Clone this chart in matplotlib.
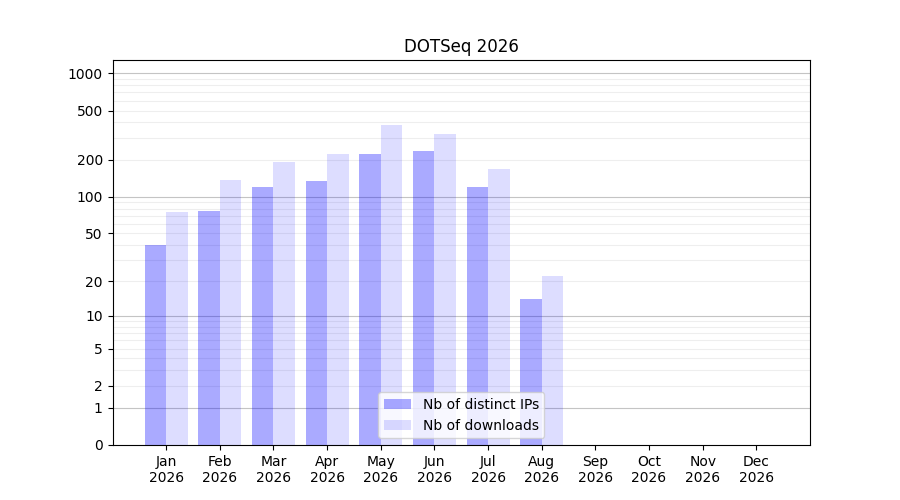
import numpy as np
import matplotlib
matplotlib.use("Agg")
import matplotlib.pyplot as plt

title = "DOTSeq 2026"
months = ["Jan", "Feb", "Mar", "Apr", "May", "Jun", "Jul", "Aug", "Sep", "Oct", "Nov", "Dec"]
year = "2026"
distinct_ips = [40, 76, 120, 134, 222, 236, 120, 14, 0, 0, 0, 0]
downloads = [75, 137, 191, 222, 382, 324, 168, 22, 0, 0, 0, 0]
ytick_values = [0, 1, 2, 5, 10, 20, 50, 100, 200, 500, 1000]

def fwd(x):
    return np.log10(1 + np.clip(x, 0, None))

def inv(y):
    return 10 ** y - 1

fig, ax = plt.subplots(figsize=(9, 5), dpi=100)
ax.set_yscale("function", functions=(fwd, inv))

x = np.arange(len(months))
w = 0.4
ax.bar(x - w / 2, distinct_ips, width=w, color="blue", alpha=0.333, label="Nb of distinct IPs", zorder=2)
ax.bar(x + w / 2, downloads, width=w, color="blue", alpha=0.133, label="Nb of downloads", zorder=2)

ax.set_xlim(-1, 12)
ax.set_ylim(0, 1280)
ax.set_xticks(x)
ax.set_xticklabels([f"{m}\n{year}" for m in months])
ax.set_yticks(ytick_values)
ax.set_yticklabels([str(v) for v in ytick_values])

major_grid = [1, 10, 100, 1000]
minor_grid = [v * d for d in (1, 10, 100) for v in range(2, 10)]
ax.set_yticks(minor_grid, minor=True)
ax.tick_params(axis="y", which="minor", length=0)
for v in major_grid:
    ax.axhline(v, color="#c4c4c4", linewidth=0.8, zorder=1)
for v in minor_grid:
    ax.axhline(v, color="#eeeeee", linewidth=0.8, zorder=1)

ax.set_title(title)
ax.legend(loc="lower center")

fig.savefig("out.png", dpi=100)
